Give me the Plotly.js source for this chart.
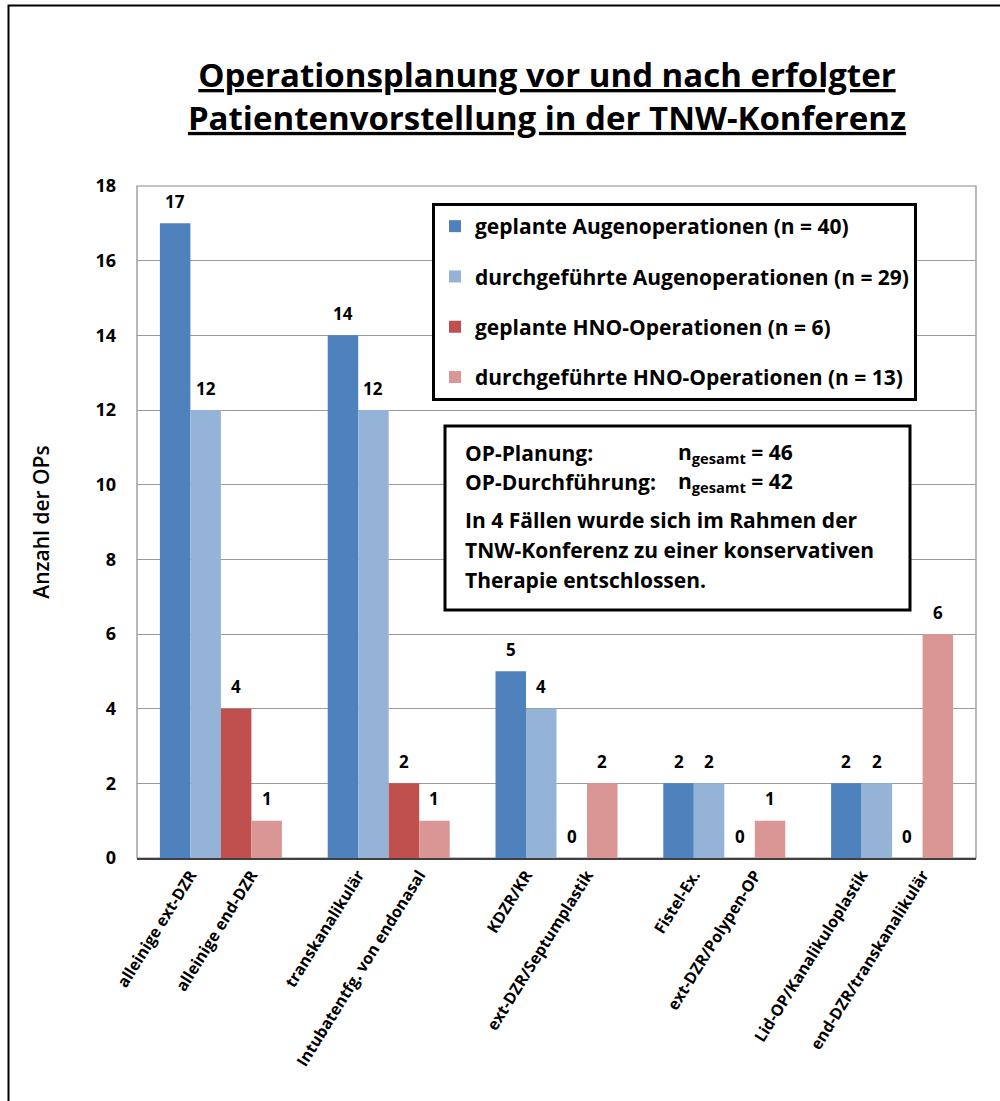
<!DOCTYPE html>
<html>
<head>
<meta charset="utf-8">
<script src="https://cdn.plot.ly/plotly-3.0.1.min.js"></script>
<style>
  html, body { margin: 0; padding: 0; background: #ffffff; }
  #chart { width: 1000px; height: 1101px; }
</style>
</head>
<body>
<div id="chart"></div>
<script>
// ---- data ----
const groupIndex = [0, 1, 2, 3, 4];
const augenLabels = ['alleinige ext-DZR', 'transkanalikulär', 'KDZR/KR', 'Fistel-Ex.', 'Lid-OP/Kanalikuloplastik'];
const hnoLabels = ['alleinige end-DZR', 'Intubatentfg. von endonasal', 'ext-DZR/Septumplastik', 'ext-DZR/Polypen-OP', 'end-DZR/transkanalikulär'];
const seriesNames = [
  'geplante Augenoperationen (n = 40)',
  'durchgeführte Augenoperationen (n = 29)',
  'geplante HNO-Operationen (n = 6)',
  'durchgeführte HNO-Operationen (n = 13)'
];
const geplantAugen = [17, 14, 5, 2, 2];
const durchgefAugen = [12, 12, 4, 2, 2];
const geplantHNO = [4, 2, 0, 0, 0];
const durchgefHNO = [1, 1, 2, 1, 6];
const seriesColors = ['#4F81BD', '#95B3D7', '#C0504D', '#D99694'];
const yTicks = [0, 2, 4, 6, 8, 10, 12, 14, 16, 18];
const infoLeft = ['OP-Planung:', 'OP-Durchführung:'];
const infoRight = ['n<sub>gesamt</sub> = 46', 'n<sub>gesamt</sub> = 42'];
const infoText = ['In 4 Fällen wurde sich im Rahmen der', 'TNW-Konferenz zu einer konservativen', 'Therapie entschlossen.'];

// ---- layout helpers ----
const W = 1000, H = 1101;
const M = { l: 137, r: 24, t: 186, b: 243 };
const PW = W - M.l - M.r, PH = H - M.t - M.b;
const px = v => (v - M.l) / PW;          // pixel x -> paper x
const py = v => (H - M.b - v) / PH;      // pixel y -> paper y
const FONT = '"Open Sans", Lato, sans-serif';
const bargap = 0.273;
const bw = (1 - bargap) / 4;

const allSeries = [geplantAugen, durchgefAugen, geplantHNO, durchgefHNO];

const traces = allSeries.map((vals, i) => ({
  type: 'bar',
  name: seriesNames[i],
  x: groupIndex,
  y: vals,
  marker: { color: seriesColors[i], line: { width: 0 } },
  legendgroup: 'g' + i,
  hoverinfo: 'y'
}));

// tick positions: centre of each bar pair
const tickvals = [], ticktext = [];
groupIndex.forEach((g, k) => {
  tickvals.push(g - bw); ticktext.push(augenLabels[k]);
  tickvals.push(g + bw); ticktext.push(hnoLabels[k]);
});

const annotations = [];
allSeries.forEach((vals, i) => {
  vals.forEach((v, k) => {
    annotations.push({
      x: groupIndex[k] + (i - 1.5) * bw, y: v, xref: 'x', yref: 'y',
      text: String(v), showarrow: false, yshift: 22, yanchor: 'middle',
      font: { family: FONT, size: 17, color: '#000', weight: 'bold' }
    });
  });
});
const infoFont = { family: FONT, size: 21, color: '#000', weight: 'bold' };
[453, 482].forEach((yy, j) => {
  annotations.push({ xref: 'paper', yref: 'paper', x: px(463), y: py(yy), xanchor: 'left', yanchor: 'middle',
    text: infoLeft[j], showarrow: false, font: infoFont });
  annotations.push({ xref: 'paper', yref: 'paper', x: px(676), y: py(yy), xanchor: 'left', yanchor: 'middle',
    text: infoRight[j], showarrow: false, font: infoFont });
});
[520, 550, 580].forEach((yy, j) => {
  annotations.push({ xref: 'paper', yref: 'paper', x: px(463), y: py(yy), xanchor: 'left', yanchor: 'middle',
    text: infoText[j], showarrow: false, font: infoFont });
});

const shapes = [
  // outer chart border
  { type: 'rect', xref: 'paper', yref: 'paper', x0: px(8.5), x1: px(1012), y0: py(1115), y1: py(5.5),
    line: { color: '#000', width: 2 }, layer: 'below' },
  // plot-area frame
  { type: 'rect', xref: 'paper', yref: 'paper', x0: 0, x1: 1, y0: 0, y1: 1,
    line: { color: '#8a8a8a', width: 1.2 }, layer: 'below' },
  // info box
  { type: 'rect', xref: 'paper', yref: 'paper', x0: px(445), x1: px(910), y0: py(610), y1: py(426),
    line: { color: '#000', width: 3 }, fillcolor: '#fff', layer: 'above' }
];

const layout = {
  width: W, height: H,
  margin: M,
  paper_bgcolor: '#fff', plot_bgcolor: '#fff',
  barmode: 'group', bargap: bargap, bargroupgap: 0,
  title: {
    text: 'Operationsplanung vor und nach erfolgter<br>Patientenvorstellung in der TNW-Konferenz',
    font: { family: FONT, size: 33, color: '#000', weight: 'bold', lineposition: 'under' },
    xref: 'paper', x: px(547), xanchor: 'center',
    yref: 'container', y: 1 - 87 / H, yanchor: 'middle'
  },
  xaxis: {
    range: [-0.5, 4.5], tickmode: 'array', tickvals: tickvals, ticktext: ticktext,
    tickangle: -58, showgrid: false, zeroline: false,
    showline: true, linecolor: '#404040', linewidth: 1.5, ticks: '',
    tickfont: { family: FONT, size: 16, color: '#000', weight: 'bold' },
    fixedrange: true
  },
  yaxis: {
    range: [0, 18], tickvals: yTicks, showgrid: true, gridcolor: '#9a9a9a', gridwidth: 1,
    zeroline: false, showline: false, ticks: '', ticklabelstandoff: 20,
    tickfont: { family: FONT, size: 18, color: '#000', weight: 'bold' },
    title: { text: 'Anzahl der OPs', font: { family: FONT, size: 21, color: '#000', weight: 600 }, standoff: 40 },
    fixedrange: true
  },
  legend: {
    x: px(432), y: py(203), xanchor: 'left', yanchor: 'top',
    bgcolor: '#fff', bordercolor: '#000', borderwidth: 3,
    font: { family: FONT, size: 21, color: '#000', weight: 'bold' },
    tracegroupgap: 20, traceorder: 'grouped'
  },
  showlegend: true,
  annotations: annotations,
  shapes: shapes
};

Plotly.newPlot('chart', traces, layout, { displayModeBar: false, staticPlot: true });
</script>
</body>
</html>
